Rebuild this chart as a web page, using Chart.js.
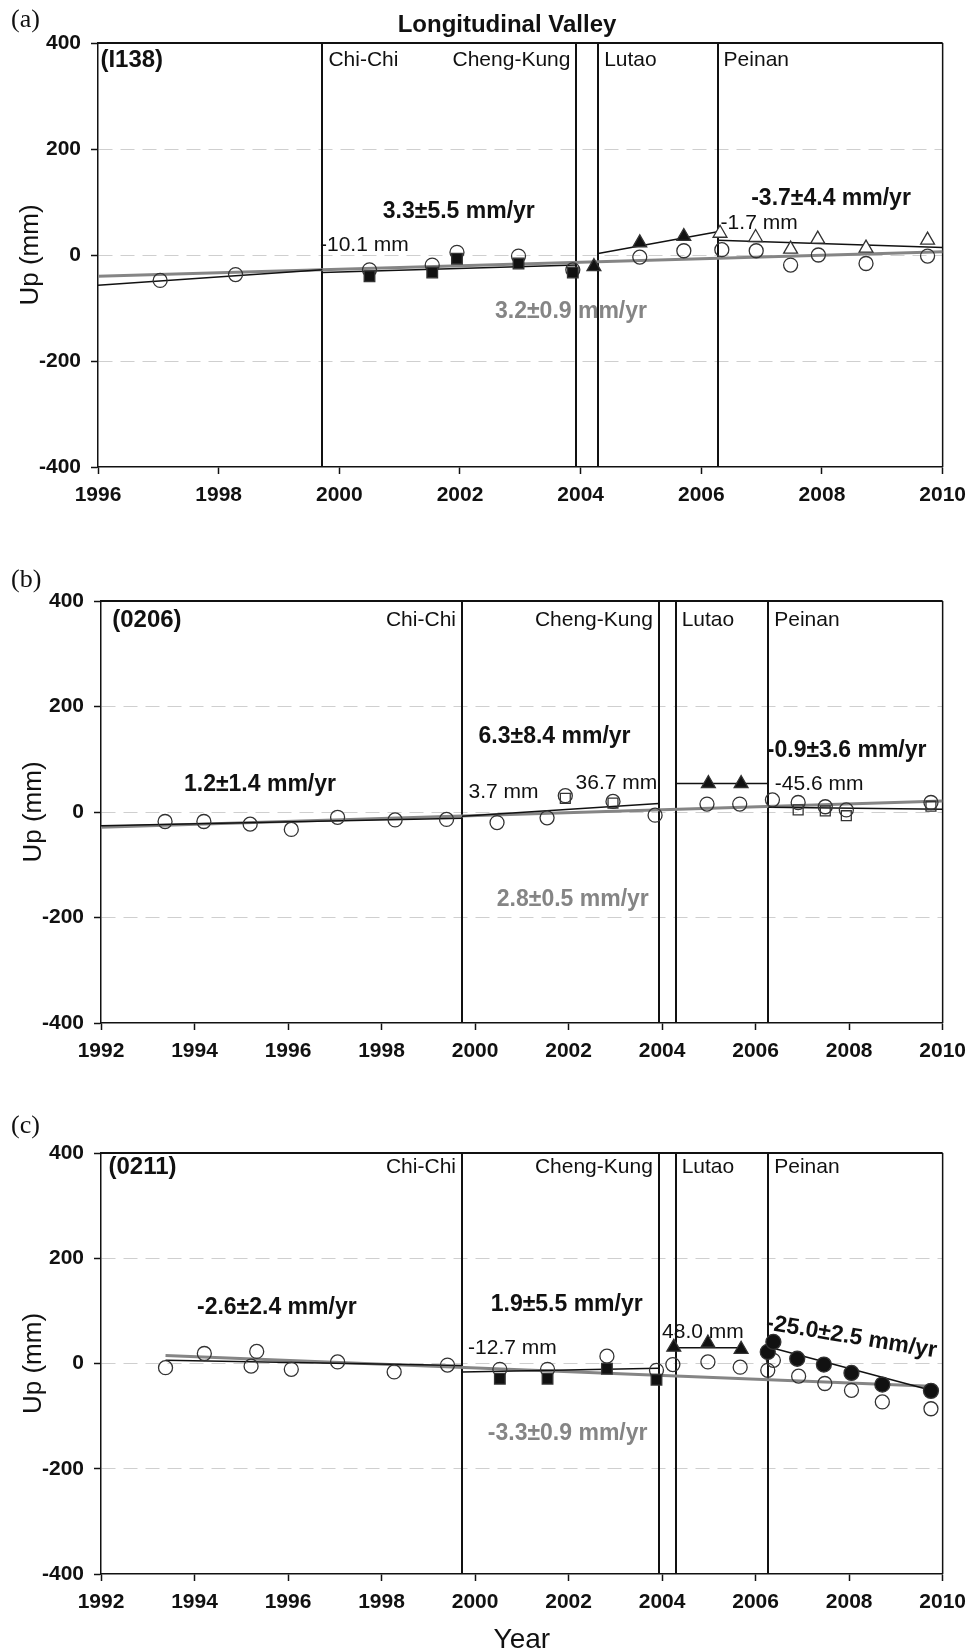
<!DOCTYPE html>
<html>
<head>
<meta charset="utf-8">
<title>Longitudinal Valley</title>
<script src="https://cdn.jsdelivr.net/npm/chart.js@4"></script>
<style>
  body { margin: 0; background: #fff; }
  #page { position: relative; width: 975px; height: 1652px; overflow: hidden; }
  canvas { position: absolute; left: 0; }
  .tag { position: absolute; left: 11px; font: 26px/26px "Liberation Serif", "Times New Roman", serif; color: #111; }
  #title { position: absolute; top: 12px; left: 507px; transform: translateX(-50%); white-space: nowrap;
           font: bold 24px/24px "Liberation Sans", Arial, sans-serif; color: #111; }
</style>
</head>
<body>
<div id="page">
  <canvas id="chartA" width="975" height="520" style="top:0"></canvas>
  <canvas id="chartB" width="975" height="520" style="top:540px"></canvas>
  <canvas id="chartC" width="975" height="562" style="top:1090px"></canvas>
  <div class="tag" style="top:6px">(a)</div>
  <div id="title">Longitudinal Valley</div>
  <div class="tag" style="top:566px">(b)</div>
  <div class="tag" style="top:1112px">(c)</div>
</div>
<script>
// shared
const quakeYears = [1999.72, 2003.93, 2004.29, 2006.27];
const quakeNames = ['Chi-Chi', 'Cheng-Kung', 'Lutao', 'Peinan'];
const upTicks = [-400, -200, 0, 200, 400];

// (a) I138
const yearTicksA = [1996, 1998, 2000, 2002, 2004, 2006, 2008, 2010];
const circlesA = [[1997.03,-48],[1998.28,-37],[2000.50,-28],[2001.54,-19],[2001.95,5],[2002.97,-2],[2003.87,-28],
  [2004.98,-4],[2005.71,8],[2006.34,10],[2006.91,8],[2007.48,-19],[2007.94,0],[2008.73,-16],[2009.75,-2]];
const squaresA = [[2000.50,-40],[2001.54,-33],[2001.95,-7],[2002.97,-16],[2003.87,-33]];
const triFilledA = [[2004.22,-22],[2004.98,23],[2005.71,35]];
const triOpenA = [[2006.31,41],[2006.90,33],[2007.48,11],[2007.93,30],[2008.73,13],[2009.75,28]];
const fitAllA = [[1996,-40],[2010,6]];
const fitSegA = [[[1996,-57],[1999.72,-28]], [[1999.72,-33],[2003.93,-19]], [[2004.29,3],[2006.27,44]], [[2006.27,28],[2010,14]]];

// (b) 0206
const yearTicksBC = [1992, 1994, 1996, 1998, 2000, 2002, 2004, 2006, 2008, 2010];
const circlesB = [[1993.37,-18],[1994.20,-18],[1995.19,-23],[1996.07,-33],[1997.06,-10],[1998.29,-15],[1999.39,-14],
  [2000.47,-20],[2001.54,-11],[2001.93,31],[2002.95,20],[2003.85,-6],[2004.96,15],[2005.66,15],[2006.36,23],
  [2006.91,18],[2007.49,10],[2007.94,4],[2009.75,18]];
const squaresB = [[2001.93,26],[2002.95,17],[2006.91,4],[2007.49,2],[2007.94,-7],[2009.75,11]];
const triFilledB = [[2004.99,54],[2005.69,54]];
const fitAllB = [[1992,-29],[2010,21]];
const fitSegB = [[[1992,-26],[1999.72,-12]], [[1999.72,-8],[2003.93,16]], [[2004.29,54],[2006.27,54]], [[2006.27,9],[2010,5]]];

// (c) 0211
const circlesC = [[1993.38,-8],[1994.21,19],[1995.21,-5],[1995.33,23],[1996.07,-11],[1997.06,3],[1998.27,-16],
  [1999.41,-3],[2000.53,-11],[2001.55,-11],[2002.82,14],[2003.88,-13],[2004.23,-2],[2004.98,3],[2005.67,-7],
  [2006.26,-13],[2006.38,6],[2006.92,-24],[2007.48,-38],[2008.05,-51],[2008.71,-73],[2009.75,-86]];
const squaresC = [[2000.53,-29],[2001.55,-29],[2002.82,-10],[2003.88,-31]];
const triFilledC = [[2004.25,31],[2004.98,39],[2005.69,27]];
const dotsC = [[2006.26,22],[2006.38,41],[2006.89,9],[2007.46,-2],[2008.05,-18],[2008.71,-40],[2009.75,-52]];
const fitAllC = [[1993.38,15],[2009.75,-43]];
const fitSegC = [[[1993.38,6],[1999.72,-4]], [[1999.72,-16],[2003.93,-9]], [[2004.25,30],[2005.69,30]], [[2006.30,31],[2009.75,-51]]];

// text annotations (anchored in year / mm)
const notesA = [
  {t: '3.3±5.5 mm/yr', x: 2001.98, y: 81, rate: true},
  {t: '-3.7±4.4 mm/yr', x: 2008.15, y: 107, rate: true},
  {t: '3.2±0.9 mm/yr', x: 2003.84, y: -106, rate: true, grey: true},
  {t: '-10.1 mm', x: 1999.68, y: 19, align: 'left'},
  {t: '-1.7 mm', x: 2006.32, y: 60, align: 'left'}
];
const notesB = [
  {t: '1.2±1.4 mm/yr', x: 1995.40, y: 51, rate: true},
  {t: '6.3±8.4 mm/yr', x: 2001.70, y: 143, rate: true},
  {t: '-0.9±3.6 mm/yr', x: 2006.24, y: 116, rate: true, align: 'left'},
  {t: '2.8±0.5 mm/yr', x: 2002.09, y: -167, rate: true, grey: true},
  {t: '3.7 mm', x: 1999.86, y: 38, align: 'left'},
  {t: '36.7 mm', x: 2002.15, y: 55, align: 'left'},
  {t: '-45.6 mm', x: 2006.41, y: 53, align: 'left'}
];
const notesC = [
  {t: '-2.6±2.4 mm/yr', x: 1995.76, y: 107, rate: true},
  {t: '1.9±5.5 mm/yr', x: 2001.96, y: 111, rate: true},
  {t: '-25.0±2.5 mm/yr', x: 2008.05, y: 50, rate: true, rot: 9.4},
  {t: '-3.3±0.9 mm/yr', x: 2001.98, y: -133, rate: true, grey: true},
  {t: '-12.7 mm', x: 1999.85, y: 29, align: 'left'},
  {t: '48.0 mm', x: 2004.00, y: 60, align: 'left'}
];

const FONT = '"Liberation Sans", Arial, sans-serif';
const INK = '#111';
const GREY = '#858585';

function text(ctx, t, px, py, align, font, color, rot) {
  ctx.save();
  ctx.translate(px, py);
  if (rot) ctx.rotate(rot * Math.PI / 180);
  ctx.font = font;
  ctx.fillStyle = color;
  ctx.textAlign = align;
  ctx.textBaseline = 'middle';
  ctx.fillText(t, 0, 0);
  ctx.restore();
}

// quake lines, frame and the labels inside the plot
const panelDecor = {
  id: 'panelDecor',
  beforeDatasetsDraw(chart, args, o) {
    const {ctx, chartArea: ca, scales: {x}} = chart;
    ctx.save();
    ctx.strokeStyle = INK;
    ctx.lineWidth = 2;
    quakeYears.forEach(q => {
      const px = Math.round(x.getPixelForValue(q));
      ctx.beginPath();
      ctx.moveTo(px, ca.top);
      ctx.lineTo(px, ca.bottom);
      ctx.stroke();
    });
    ctx.beginPath();
    ctx.moveTo(ca.left, ca.top);
    ctx.lineTo(ca.right, ca.top);
    ctx.stroke();
    ctx.lineWidth = 1.5;
    ctx.beginPath();
    ctx.moveTo(ca.right, ca.top);
    ctx.lineTo(ca.right, ca.bottom);
    ctx.stroke();
    ctx.restore();
  },
  afterDatasetsDraw(chart, args, o) {
    const {ctx, chartArea: ca, scales: {x, y}} = chart;
    ctx.save();
    ctx.beginPath();
    ctx.rect(ca.left, ca.top, ca.right - ca.left, ca.bottom - ca.top);
    ctx.clip();
    text(ctx, o.station, x.getPixelForValue(o.stationAt[0]), y.getPixelForValue(o.stationAt[1]),
      'left', 'bold 24px ' + FONT, INK);
    quakeYears.forEach((q, i) => {
      const side = o.quakeSide[i];
      text(ctx, quakeNames[i], x.getPixelForValue(q) + side * 6, y.getPixelForValue(o.quakeLabelY),
        side > 0 ? 'left' : 'right', '21px ' + FONT, INK);
    });
    o.notes.forEach(n => {
      const font = n.rate ? 'bold 23px ' + FONT : '21px ' + FONT;
      text(ctx, n.t, x.getPixelForValue(n.x), y.getPixelForValue(n.y), n.align || 'center', font,
        n.grey ? GREY : INK, n.rot);
    });
    ctx.restore();
  }
};

const pts = arr => arr.map(([x, y]) => ({x, y}));

function marks(arr, style, fill, radius) {
  return {data: pts(arr), showLine: false, pointStyle: style, pointRadius: radius,
    pointBackgroundColor: fill, pointBorderColor: '#333', pointBorderWidth: 1.3, order: 0};
}

function fit(arr, color, width, order) {
  return {data: pts(arr), showLine: true, borderColor: color, borderWidth: width,
    pointRadius: 0, order: order};
}

function makePanel(p) {
  const tickFont = {family: FONT, size: 21, weight: 'bold'};
  new Chart(document.getElementById(p.id), {
    type: 'scatter',
    data: {datasets: p.datasets},
    plugins: [panelDecor],
    options: {
      responsive: false,
      animation: false,
      devicePixelRatio: 1,
      layout: {padding: p.pad},
      scales: {
        x: {
          type: 'linear', min: p.xTicks[0], max: 2010,
          afterBuildTicks: s => { s.ticks = p.xTicks.map(v => ({value: v})); },
          afterFit: s => { s.height = p.axisH; },
          ticks: {callback: v => String(v), font: tickFont, color: INK, padding: 9, maxRotation: 0, autoSkip: false},
          grid: {drawOnChartArea: false, tickLength: 7, tickColor: INK, tickWidth: 1.5},
          border: {color: INK, width: 1.5},
          title: p.xTitle
            ? {display: true, text: p.xTitle, color: INK, font: {family: FONT, size: 28, lineHeight: 0.86}, padding: 0}
            : {display: false}
        },
        y: {
          min: -400, max: 400,
          afterBuildTicks: s => { s.ticks = upTicks.map(v => ({value: v})); },
          afterFit: s => { s.width = 90; },
          ticks: {font: tickFont, color: INK, padding: 10},
          grid: {
            color: c => (c.tick && Math.abs(c.tick.value) === 400) ? 'rgba(0,0,0,0)' : '#cfcfcf',
            lineWidth: 1, tickLength: 7, tickColor: INK, tickWidth: 1.5
          },
          border: {color: INK, width: 1.5, dash: [14, 8]},
          title: {display: true, text: 'Up (mm)', color: INK, font: {family: FONT, size: 26}, padding: {top: 7, bottom: 0}}
        }
      },
      plugins: {
        legend: {display: false},
        tooltip: {enabled: false},
        panelDecor: {
          station: p.station, stationAt: p.stationAt, quakeSide: p.quakeSide,
          quakeLabelY: p.quakeLabelY, notes: p.notes
        }
      }
    }
  });
}

makePanel({
  id: 'chartA', xTicks: yearTicksA,
  pad: {left: 8, right: 29, top: 43, bottom: 2}, axisH: 51,
  station: '(I138)', stationAt: [1996.04, 368], quakeSide: [1, -1, 1, 1], quakeLabelY: 368,
  notes: notesA,
  datasets: [
    fit(fitAllA, GREY, 3, 3),
    ...fitSegA.map(s => fit(s, INK, 1.5, 2)),
    marks(squaresA, 'rect', INK, 7.5),
    marks(triFilledA, 'triangle', INK, 8),
    marks(triOpenA, 'triangle', '#fff', 8),
    marks(circlesA, 'circle', 'rgba(255,255,255,0)', 7)
  ]
});

makePanel({
  id: 'chartB', xTicks: yearTicksBC,
  pad: {left: 11, right: 29, top: 61, bottom: 2}, axisH: 35,
  station: '(0206)', stationAt: [1992.24, 364], quakeSide: [-1, -1, 1, 1], quakeLabelY: 364,
  notes: notesB,
  datasets: [
    fit(fitAllB, GREY, 3, 3),
    ...fitSegB.map(s => fit(s, INK, 1.5, 2)),
    marks(squaresB, 'rect', 'rgba(255,255,255,0)', 7),
    marks(triFilledB, 'triangle', INK, 8),
    marks(circlesB, 'circle', 'rgba(255,255,255,0)', 7)
  ]
});

makePanel({
  id: 'chartC', xTicks: yearTicksBC, xTitle: 'Year',
  pad: {left: 11, right: 29, top: 63, bottom: 0}, axisH: 78,
  station: '(0211)', stationAt: [1992.16, 373], quakeSide: [-1, -1, 1, 1], quakeLabelY: 373,
  notes: notesC,
  datasets: [
    fit(fitAllC, GREY, 3, 3),
    ...fitSegC.map(s => fit(s, INK, 1.5, 2)),
    marks(squaresC, 'rect', INK, 7.5),
    marks(triFilledC, 'triangle', INK, 8),
    marks(dotsC, 'circle', INK, 7.5),
    marks(circlesC, 'circle', 'rgba(255,255,255,0)', 7)
  ]
});
</script>
</body>
</html>
